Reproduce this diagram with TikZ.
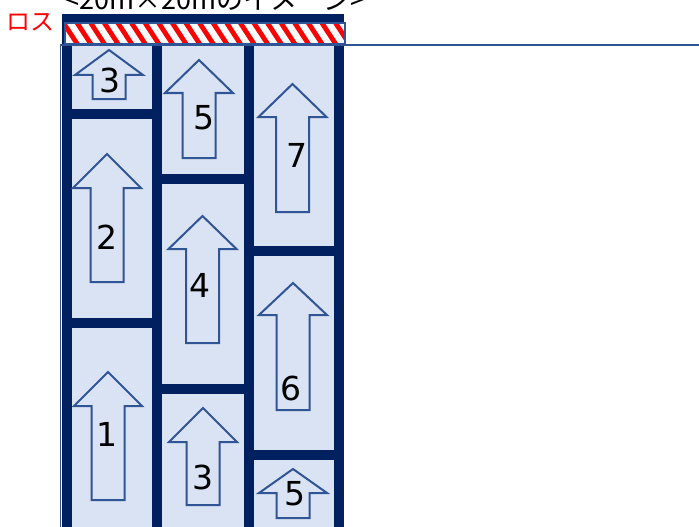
\documentclass[tikz,border=0pt]{standalone}
\usepackage{fontspec}
\usepackage{tikz}
\usetikzlibrary{positioning}
\newfontfamily\jpfont{Noto Sans CJK JP}
\newfontfamily\numfont{DejaVu Sans}
\definecolor{PanelNavy}{RGB}{0,32,96}
\definecolor{ArrowBlue}{RGB}{47,85,151}
\definecolor{PanelFill}{RGB}{218,227,243}
\definecolor{LossRed}{RGB}{255,0,0}

\begin{document}
\begin{tikzpicture}[
				x=1pt,y=-1pt,
				panel/.style={
					draw=PanelNavy,
					fill=PanelFill,
					line width=10pt,
					inner sep=0pt,
					outer sep=0pt,
					minimum width=90pt
				},
				uparrow/.style={
					draw=ArrowBlue,
					fill=PanelFill,
					line width=2pt,
					line join=miter
				},
				numlabel/.style={
					inner sep=0pt,
					font=\numfont\fontsize{33}{33}\selectfont
				},
				thinedge/.style={
					draw=ArrowBlue,
					line width=1.8pt
				},
				lossstripe/.style={
					draw=LossRed,
					line width=4.8pt
				}
				]
				
				\useasboundingbox (0,0) rectangle (699,527);
				\clip (0,0) rectangle (699,527);
				
				\node[
				panel,
				minimum height=94pt,
				anchor=north
				]
				(A3) at (112,19.5) {};
				\node[panel,minimum height=209.5pt,below=0pt of A3] (A2) {};
				\node[panel,minimum height=222pt,below=0pt of A2] (A1) {};
				
				\node[
				panel,
				minimum width=92pt,
				minimum height=159.5pt,
				anchor=north
				]
				(B5) at (203,19.5) {};
				\node[panel,minimum width=92pt,minimum height=210pt,below=0pt of B5] (B4) {};
				\node[panel,minimum width=92pt,minimum height=156pt,below=0pt of B4] (B3) {};
				
				\node[
				panel,
				minimum height=231.5pt,
				anchor=north
				]
				(C7) at (294,19.5) {};
				\node[panel,minimum height=204pt,below=0pt of C7] (C6) {};
				\node[panel,minimum height=90pt,below=0pt of C6] (C5) {};
				
				\draw[uparrow] (109,50) -- (143,75) -- (125.5,75) -- (125.5,99) -- (92.5,99) -- (92.5,75) -- (75,75) -- cycle;
				\draw[uparrow] (107,154) -- (141,188) -- (123.5,188) -- (123.5,282) -- (90.5,282) -- (90.5,188) -- (73,188) -- cycle;
				\draw[uparrow] (108,372) -- (142,406) -- (124.5,406) -- (124.5,500) -- (91.5,500) -- (91.5,406) -- (74,406) -- cycle;
				\draw[uparrow] (199,60) -- (233,93) -- (215.5,93) -- (215.5,158) -- (182.5,158) -- (182.5,93) -- (165,93) -- cycle;
				\draw[uparrow] (202.5,216) -- (236.5,249) -- (219,249) -- (219,343) -- (186,343) -- (186,249) -- (168.5,249) -- cycle;
				\draw[uparrow] (203,408) -- (237,442) -- (219.5,442) -- (219.5,505) -- (186.5,505) -- (186.5,442) -- (169,442) -- cycle;
				\draw[uparrow] (292.5,84) -- (326.5,117) -- (309,117) -- (309,212) -- (276,212) -- (276,117) -- (258.5,117) -- cycle;
				\draw[uparrow] (293,283) -- (327,315) -- (309.5,315) -- (309.5,410) -- (276.5,410) -- (276.5,315) -- (259,315) -- cycle;
				\draw[uparrow] (293,469) -- (327,493) -- (309.5,493) -- (309.5,518) -- (276.5,518) -- (276.5,493) -- (259,493) -- cycle;
				
				\node[numlabel] (nA3) at (110,80) {3};
				\node[numlabel] (nA2) at (107,237) {2};
				\node[numlabel] (nA1) at (107,434) {1};
				\node[numlabel] (nB5) at (204,118) {5};
				\node[numlabel] (nB4) at (200,285) {4};
				\node[numlabel] (nB3) at (203,477) {3};
				\node[numlabel] (nC7) at (297,155) {7};
				\node[numlabel] (nC6) at (291,388) {6};
				\node[numlabel] (nC5) at (295,494) {5};
				
				\begin{scope}
					\clip (65,23) rectangle (345,44);
					\fill[white] (65,23) rectangle (345,44);
					\foreach \s in {0,...,23}
					\draw[lossstripe] ({48+13.6*\s},20) -- ++(17,26);
				\end{scope}
				\draw[thinedge] (65,23) rectangle (345,44);
				
				\draw[thinedge] (60.5,45) rectangle (720,560);
				
				\node[
				text=LossRed,
				inner sep=0pt,
				font=\jpfont\fontsize{24}{24}\selectfont
				]
				(loss) at (30,22) {ロス};
				
				\node[
				anchor=base west,
				inner sep=0pt,
				font=\jpfont\fontsize{27}{27}\selectfont
				]
				(title) at (64,9.5) {<20m×20mのイメージ>};
				
			\end{tikzpicture}
\end{document}
